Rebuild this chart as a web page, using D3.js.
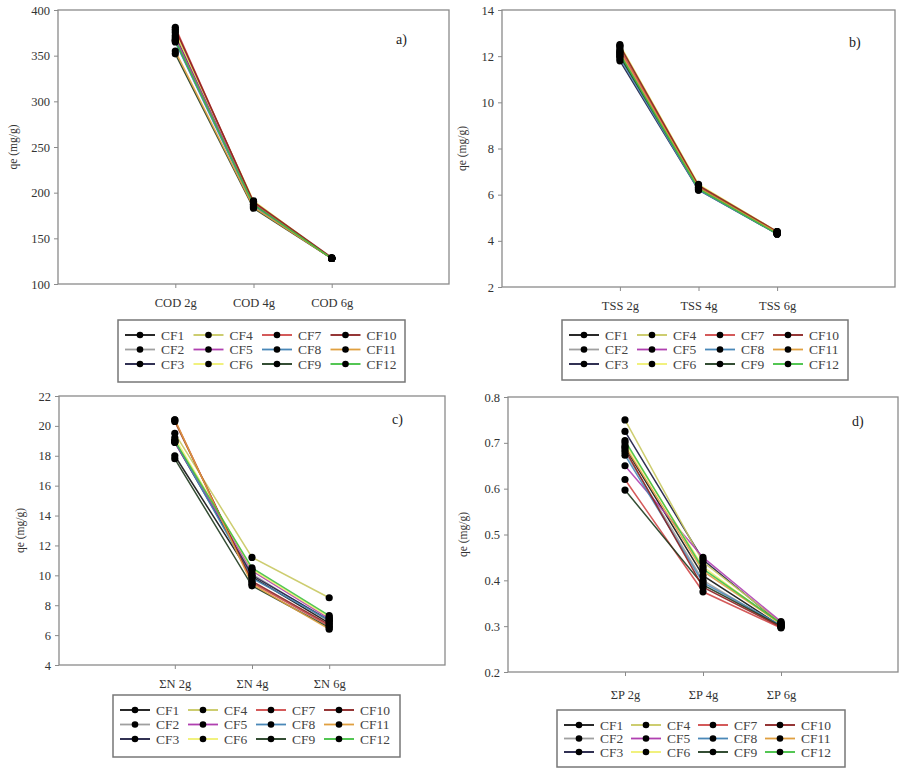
<!DOCTYPE html>
<html>
<head>
<meta charset="utf-8">
<script src="https://cdn.jsdelivr.net/npm/d3@7"></script>
<style>
  body { margin: 0; background: #fff; }
  svg, svg text { font-family: "Liberation Serif", "Times New Roman", "DejaVu Serif", serif; }
</style>
</head>
<body>
<div id="vis"></div>
<script>
// series names and the three dosages of each panel
var series = ["CF1","CF2","CF3","CF4","CF5","CF6","CF7","CF8","CF9","CF10","CF11","CF12"];

var codCats = ["COD 2g","COD 4g","COD 6g"];
var codVals = [[372,188,128],[368,186,128],[366,187,128],[375,190,128],[370,189,128],[377,191,128],
               [381,189,128],[365,185,128],[352,183,128],[379,190,129],[355,184,128],[367,187,128]];
var codTicks = [100,150,200,250,300,350,400];

var tssCats = ["TSS 2g","TSS 4g","TSS 6g"];
var tssVals = [[12.1,6.3,4.35],[12.0,6.25,4.3],[11.8,6.2,4.3],[12.4,6.4,4.4],[12.2,6.3,4.35],[12.5,6.45,4.4],
               [12.3,6.35,4.35],[11.9,6.2,4.3],[12.0,6.3,4.35],[12.45,6.4,4.4],[12.2,6.3,4.35],[12.1,6.25,4.3]];
var tssTicks = [2,4,6,8,10,12,14];

var nCats = ["\u03A3N 2g","\u03A3N 4g","\u03A3N 6g"];
var nVals = [[18.0,9.9,6.8],[19.0,10.1,6.9],[18.9,10.0,7.0],[19.5,11.2,8.5],[18.9,10.3,7.1],[19.2,10.4,7.2],
             [20.4,9.5,6.6],[19.0,9.8,7.0],[17.8,9.3,6.5],[20.3,9.6,6.7],[20.4,9.4,6.4],[19.0,10.5,7.3]];
var nTicks = [4,6,8,10,12,14,16,18,20,22];

var pCats = ["\u03A3P 2g","\u03A3P 4g","\u03A3P 6g"];
var pVals = [[0.690,0.410,0.300],[0.680,0.400,0.298],[0.725,0.445,0.305],[0.750,0.440,0.308],[0.650,0.450,0.310],[0.700,0.430,0.303],
             [0.620,0.375,0.296],[0.673,0.395,0.302],[0.597,0.390,0.300],[0.685,0.385,0.298],[0.693,0.420,0.305],[0.705,0.425,0.306]];
var pTicks = [0.2,0.3,0.4,0.5,0.6,0.7,0.8];

const colors = ["#111111","#a0a0a0","#1a1a40","#c8c860","#b040b0","#f0f070",
                "#d04848","#4a88b8","#1e3a1e","#8a2020","#e0a040","#40c040"];

const serif = '"Liberation Serif", "Times New Roman", "DejaVu Serif", serif';

const svg = d3.select("#vis").append("svg").attr("width", 900).attr("height", 772)
  .attr("font-family", serif);

const drawPanel = (cfg) => {
  const g = svg.append("g");
  const x = d3.scalePoint().domain(cfg.cats).range([cfg.left, cfg.right]).padding(1.5);
  const y = d3.scaleLinear().domain(d3.extent(cfg.ticks)).range([cfg.bottom, cfg.top]);

  // frame
  g.append("rect").attr("x", cfg.left).attr("y", cfg.top)
    .attr("width", cfg.right - cfg.left).attr("height", cfg.bottom - cfg.top)
    .attr("fill", "none").attr("stroke", "#8a8a8a").attr("stroke-width", 1.3);

  const yAxis = g.append("g").attr("transform", `translate(${cfg.left},0)`)
    .call(d3.axisLeft(y).tickValues(cfg.ticks).tickSize(4).tickPadding(4).tickFormat(cfg.fmt));
  const xAxis = g.append("g").attr("transform", `translate(0,${cfg.bottom})`)
    .call(d3.axisBottom(x).tickSize(4).tickPadding(cfg.xPad));
  [yAxis, xAxis].forEach(a => {
    a.attr("font-family", serif);
    a.select(".domain").remove();
    a.selectAll("line").attr("stroke", "#8a8a8a");
    a.selectAll("text").attr("font-size", 12.5).attr("fill", "#333");
  });

  g.append("text").attr("transform", `translate(${cfg.ylabX},${(cfg.top + cfg.bottom) / 2}) rotate(-90)`)
    .attr("text-anchor", "middle").attr("font-size", 11.5).attr("fill", "#333").text("qe (mg/g)");
  g.append("text").attr("x", cfg.tagX).attr("y", cfg.tagY).attr("font-size", 14)
    .attr("fill", "#222").text(cfg.tag);

  const line = d3.line().x((d, i) => x(cfg.cats[i])).y(d => y(d));
  g.selectAll("path.series").data(cfg.vals).enter().append("path")
    .attr("class", "series").attr("d", line).attr("fill", "none")
    .attr("stroke", (d, i) => colors[i]).attr("stroke-width", 1.5).attr("opacity", 0.9);

  cfg.vals.forEach(v => {
    g.selectAll(null).data(v).enter().append("circle")
      .attr("cx", (d, i) => x(cfg.cats[i])).attr("cy", d => y(d)).attr("r", 3.6).attr("fill", "#000");
  });

  // legend
  const lg = cfg.legend;
  g.append("rect").attr("x", lg.x).attr("y", lg.y).attr("width", lg.w).attr("height", lg.h)
    .attr("fill", "#fff").attr("stroke", "#777").attr("stroke-width", 1.5);
  const items = g.selectAll("g.leg").data(series).enter().append("g")
    .attr("transform", (d, i) => `translate(${lg.x + 7 + Math.floor(i / 3) * lg.col},${lg.y + 15 + (i % 3) * lg.row})`);
  items.append("line").attr("x1", 0).attr("x2", 30).attr("y1", 0).attr("y2", 0)
    .attr("stroke", (d, i) => colors[i]).attr("stroke-width", 1.8);
  items.append("circle").attr("cx", 15).attr("cy", 0).attr("r", 3.3).attr("fill", "#000");
  items.append("text").attr("x", 36).attr("y", 4.5).attr("font-size", 13.5).attr("fill", "#444").text(d => d);
};

drawPanel({cats: codCats, vals: codVals, ticks: codTicks, fmt: d3.format("d"),
  left: 58, right: 449, top: 10, bottom: 284, xPad: 10, ylabX: 17, tag: "a)", tagX: 396, tagY: 44,
  legend: {x: 118, y: 320, w: 287, h: 62, col: 68.5, row: 14.5}});

drawPanel({cats: tssCats, vals: tssVals, ticks: tssTicks, fmt: d3.format("d"),
  left: 502, right: 895, top: 10, bottom: 287, xPad: 10, ylabX: 466, tag: "b)", tagX: 849, tagY: 47,
  legend: {x: 562, y: 320, w: 286, h: 60, col: 68, row: 14.5}});

drawPanel({cats: nCats, vals: nVals, ticks: nTicks, fmt: d3.format("d"),
  left: 59, right: 445, top: 396, bottom: 665, xPad: 10, ylabX: 24, tag: "c)", tagX: 392, tagY: 424,
  legend: {x: 113, y: 695, w: 287, h: 62, col: 68, row: 14.5}});

drawPanel({cats: pCats, vals: pVals, ticks: pTicks, fmt: d3.format(".1f"),
  left: 508, right: 898, top: 397, bottom: 672, xPad: 14, ylabX: 467, tag: "d)", tagX: 852, tagY: 426,
  legend: {x: 557, y: 710, w: 288, h: 57, col: 67, row: 13.5}});
</script>
</body>
</html>
